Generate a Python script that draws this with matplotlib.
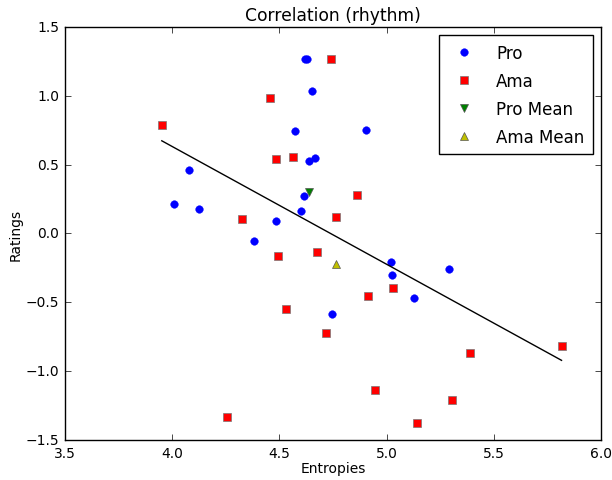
import matplotlib
matplotlib.use("Agg")
import matplotlib.pyplot as plt
import numpy as np

plt.style.use("classic")

pro_x = [4.618, 4.629, 4.651, 4.572, 4.637, 4.668, 4.081, 4.614, 4.008, 4.125,
         4.603, 4.483, 4.380, 4.905, 4.746, 5.019, 5.027, 5.290, 5.126]
pro_y = [1.268, 1.268, 1.033, 0.743, 0.523, 0.545, 0.458, 0.275, 0.212, 0.181,
         0.161, 0.089, -0.053, 0.753, -0.581, -0.210, -0.302, -0.258, -0.465]

ama_x = [4.740, 4.458, 3.952, 4.483, 4.565, 4.324, 4.766, 4.860, 4.495, 4.676,
         4.530, 4.716, 4.258, 5.028, 4.913, 5.388, 5.816, 4.944, 5.305, 5.142]
ama_y = [1.268, 0.986, 0.786, 0.540, 0.552, 0.106, 0.118, 0.282, -0.164, -0.135,
         -0.550, -0.726, -1.336, -0.396, -0.456, -0.866, -0.818, -1.134, -1.208, -1.375]

pro_mean = (4.640, 0.299)
ama_mean = (4.766, -0.224)

fit_x = [3.952, 5.816]
fit_y = [0.673, -0.921]

fig = plt.figure(figsize=(6.12, 4.81), dpi=100)
ax = fig.add_axes([0.106, 0.083, 0.876, 0.859])

ax.plot(pro_x, pro_y, 'bo', markersize=5.5, markeredgewidth=0.3, markeredgecolor='b', label='Pro')
ax.plot(ama_x, ama_y, 'rs', markersize=5.5, markeredgewidth=0.5, markeredgecolor='#777777', label='Ama')
ax.plot([pro_mean[0]], [pro_mean[1]], 'gv', markersize=5.5, markeredgewidth=0.5, markeredgecolor='#555555', label='Pro Mean')
ax.plot([ama_mean[0]], [ama_mean[1]], 'y^', markersize=5.5, markeredgewidth=0.5, markeredgecolor='#555555', label='Ama Mean')
ax.plot(fit_x, fit_y, 'k-', linewidth=1.0)

ax.set_xlim(3.5, 6.0)
ax.set_ylim(-1.5, 1.5)
ax.set_xticks([3.5, 4.0, 4.5, 5.0, 5.5, 6.0])
ax.set_yticks([-1.5, -1.0, -0.5, 0.0, 0.5, 1.0, 1.5])
ax.tick_params(labelsize=10)
ax.set_title("Correlation (rhythm)", fontsize=12.3)
ax.set_xlabel("Entropies", fontsize=10, labelpad=1)
ax.set_ylabel("Ratings", fontsize=10, labelpad=2)
ax.legend(loc='upper right', numpoints=1, fontsize=12, handlelength=2.0,
          labelspacing=0.6, borderpad=0.5, handletextpad=0.9)

fig.savefig("out.png", dpi=100)
